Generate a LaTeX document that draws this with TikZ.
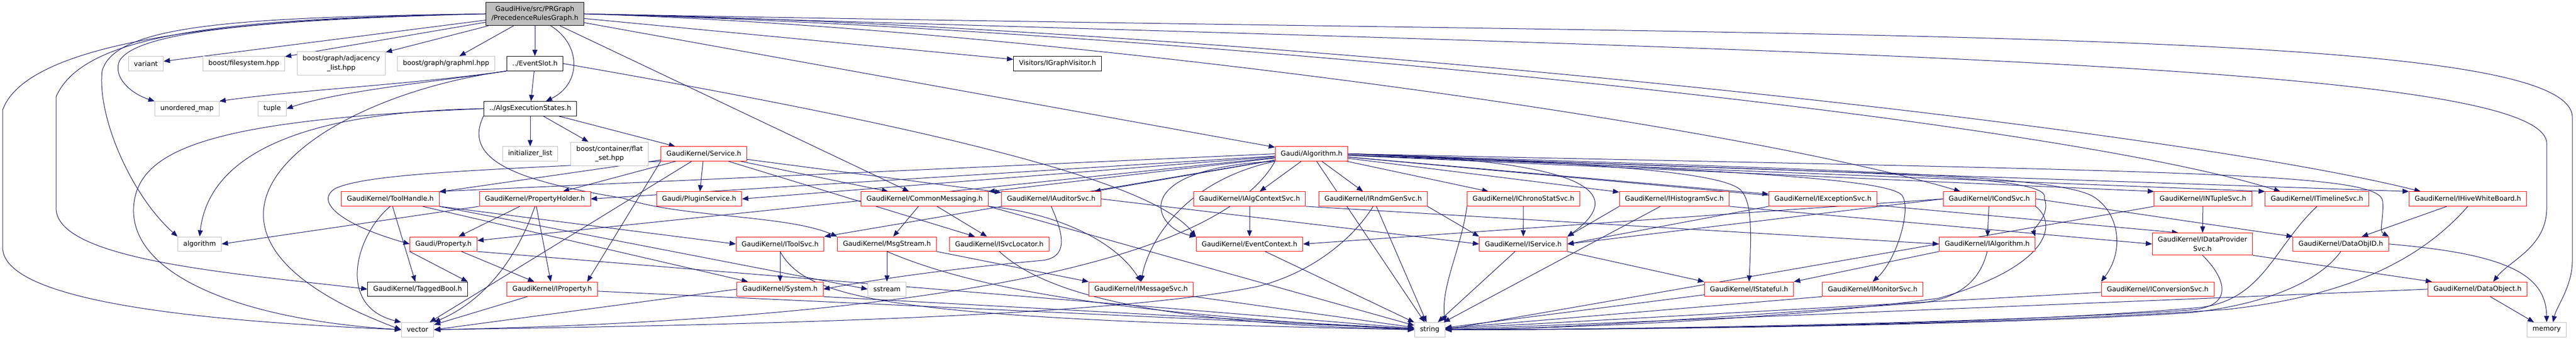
\documentclass[tikz,border=0pt]{standalone}
\usepackage{fontspec}
\setmainfont{DejaVu Sans}
\usetikzlibrary{arrows.meta}
\usetikzlibrary{backgrounds}
\usetikzlibrary{positioning}
\definecolor{edgeblue}{HTML}{191970}
\definecolor{sysgray}{HTML}{BFBFBF}
\definecolor{trunred}{HTML}{FF0000}
\tikzset{
    Node/.style = {rectangle, draw=black, fill=white, line width=1pt, align=center,
                   inner xsep=10.5pt, inner ysep=7.3pt, minimum height=27.5pt}
}
\tikzset{
    Edge/.style = {draw=edgeblue, line width=1pt, -{Triangle[length=12pt,width=9.5pt]}}
}
\begin{document}
\begin{tikzpicture}[
    x=1pt, y=-1.248pt,
    font=\fontsize{12.9}{17.5}\selectfont
]
\tikzset{
    sysnode/.style = {Node, draw=sysgray},
    rednode/.style = {Node, draw=trunred},
    rootnode/.style = {Node, fill=sysgray},
}
\useasboundingbox (0,1.8) rectangle (4917,520.2);

\node[rootnode] at (1021,23) (prg) {GaudiHive/src/PRGraph\\/PrecedenceRulesGraph.h};

\node[sysnode] at (278.5,99) (variant) {variant};
\node[sysnode] at (465.5,99) (filesys) {boost/filesystem.hpp};
\node[sysnode] at (651.5,99) (adjlist) {boost/graph/adjacency\\\_list.hpp};
\node[sysnode] at (851.5,99) (graphml) {boost/graph/graphml.hpp};
\node[Node] at (1021,99) (evslot) {../EventSlot.h};
\node[Node] at (2018.5,99) (visitor) {Visitors/IGraphVisitor.h};

\node[sysnode] at (357,168) (umap) {unordered\_map};
\node[sysnode] at (519.5,168) (tuple) {tuple};
\node[Node] at (1012,168) (aes) {../AlgsExecutionStates.h};

\node[sysnode] at (1012,237) (initlist) {initializer\_list};
\node[sysnode] at (1163.5,237) (flatset) {boost/container/flat\\\_set.hpp};
\node[rednode] at (1343.5,237) (service) {GaudiKernel/Service.h};
\node[rednode] at (2503.5,237) (algh) {Gaudi/Algorithm.h};

\node[rednode] at (745,306) (toolh) {GaudiKernel/ToolHandle.h};
\node[rednode] at (1021,306) (propholder) {GaudiKernel/PropertyHolder.h};
\node[rednode] at (1334.5,306) (plugin) {Gaudi/PluginService.h};
\node[rednode] at (1765,306) (commsg) {GaudiKernel/CommonMessaging.h};
\node[rednode] at (2006.5,306) (iauditor) {GaudiKernel/IAuditorSvc.h};
\node[rednode] at (2385,306) (ialgctx) {GaudiKernel/IAlgContextSvc.h};
\node[rednode] at (2621,306) (irndm) {GaudiKernel/IRndmGenSvc.h};
\node[rednode] at (2908,306) (ichrono) {GaudiKernel/IChronoStatSvc.h};
\node[rednode] at (3196,306) (ihisto) {GaudiKernel/IHistogramSvc.h};
\node[rednode] at (3479.5,306) (iexcept) {GaudiKernel/IExceptionSvc.h};
\node[rednode] at (3797,306) (icond) {GaudiKernel/ICondSvc.h};
\node[rednode] at (4205,306) (intuple) {GaudiKernel/INTupleSvc.h};
\node[rednode] at (4422.5,306) (itimeline) {GaudiKernel/ITimelineSvc.h};
\node[rednode] at (4710.5,306) (iwhiteb) {GaudiKernel/IHiveWhiteBoard.h};

\node[sysnode] at (381,375) (algorithm) {algorithm};
\node[rednode] at (846.5,375) (property) {Gaudi/Property.h};
\node[rednode] at (1489,375) (itoolsvc) {GaudiKernel/IToolSvc.h};
\node[rednode] at (1693,375) (msgstream) {GaudiKernel/MsgStream.h};
\node[rednode] at (1907.5,375) (isvcloc) {GaudiKernel/ISvcLocator.h};
\node[rednode] at (2385,375) (evctx) {GaudiKernel/EventContext.h};
\node[rednode] at (2907.5,375) (iservice) {GaudiKernel/IService.h};
\node[rednode] at (3793,375) (ialgorithm) {GaudiKernel/IAlgorithm.h};
\node[rednode] at (4204,375) (idataprov) {GaudiKernel/IDataProvider\\Svc.h};
\node[rednode] at (4468,375) (dataobjid) {GaudiKernel/DataObjID.h};

\node[Node] at (797,444) (taggedbool) {GaudiKernel/TaggedBool.h};
\node[rednode] at (1054,444) (iproperty) {GaudiKernel/IProperty.h};
\node[rednode] at (1489,444) (system) {GaudiKernel/System.h};
\node[sysnode] at (1693,444) (sstream) {sstream};
\node[rednode] at (2178,444) (imsgsvc) {GaudiKernel/IMessageSvc.h};
\node[rednode] at (3338.5,444) (istateful) {GaudiKernel/IStateful.h};
\node[rednode] at (3574.5,444) (imonitor) {GaudiKernel/IMonitorSvc.h};
\node[rednode] at (4118.5,444) (iconv) {GaudiKernel/IConversionSvc.h};
\node[rednode] at (4729,444) (dataobj) {GaudiKernel/DataObject.h};

\node[sysnode] at (797,506) (vector) {vector};
\node[sysnode] at (2729,506) (string) {string};
\node[sysnode] at (4861,506) (memory) {memory};

\begin{scope}[on background layer]
\path (prg) edge [Edge] (variant);
\path (prg) edge [Edge] (filesys);
\path (prg) edge [Edge] (adjlist);
\path (prg) edge [Edge] (graphml);
\path (prg) edge [Edge] (evslot);
\path (prg) edge [Edge] (visitor);
\path (prg) edge [Edge] (algh);
\path (prg) edge [Edge] (commsg);
\draw[Edge] (prg.east) .. controls (2000,45) and (3300,190) .. ([xshift=-55pt]icond.north);
\draw[Edge] (prg.east) .. controls (2200,45) and (3900,180) .. ([xshift=-70pt]itimeline.north);
\draw[Edge] (prg.east) .. controls (2300,40) and (4100,190) .. ([xshift=-90pt]iwhiteb.north);
\draw[Edge] ([xshift=30pt]prg.south) .. controls (1110,70) and (1110,130) .. ([xshift=30pt]aes.north);
\draw[Edge] (prg.west) .. controls (500,32) and (260,50) .. (228,95) .. controls (215,120) and (250,145) .. (umap.north west);
\draw[Edge] (prg.west) .. controls (450,28) and (220,40) .. (195,110) .. controls (185,180) and (250,300) .. (algorithm.north west);
\draw[Edge] (prg.west) .. controls (450,30) and (160,50) .. (107,150) -- (107,320) .. controls (107,400) and (450,420) .. (taggedbool.west);
\draw[Edge] (prg.west) .. controls (400,30) and (50,70) .. (5,170) -- (5,380) .. controls (5,470) and (450,495) .. (vector.west);
\draw[Edge] (prg.east) .. controls (3500,60) and (4900,40) .. (4910,180) -- (4910,400) .. controls (4910,440) and (4880,470) .. ([xshift=12pt]memory.north);
\draw[Edge] (prg.east) .. controls (3500,80) and (4850,100) .. (4861,220) -- (4861,320) .. controls (4861,380) and (4790,400) .. ([xshift=30pt]dataobj.north);

\path (evslot) edge [Edge] (aes);
\draw[Edge] (evslot.south west) .. controls (800,130) and (560,140) .. (umap.north east);
\draw[Edge] (evslot.south west) .. controls (850,125) and (650,140) .. (tuple.east);
\draw[Edge] (evslot.east) .. controls (1800,200) and (2200,280) .. (evctx.north west);
\draw[Edge] (evslot.south west) .. controls (600,150) and (250,350) .. (vector.west);

\path (aes) edge [Edge] (initlist);
\path (aes) edge [Edge] (flatset);
\path (aes) edge [Edge] (service);
\draw[Edge] (aes.west) .. controls (600,172) and (400,230) .. (algorithm.north);
\draw[Edge] (aes.west) .. controls (400,185) and (260,230) .. (255,320) .. controls (250,420) and (450,490) .. (vector.west);
\draw[Edge] (aes.south west) .. controls (880,250) and (1000,280) .. (1190,305) .. controls (1300,335) and (1500,330) .. (msgstream.north west);

\path (service) edge [Edge] (plugin);
\path (service) edge [Edge] (propholder);
\path (service) edge [Edge] (commsg);
\path (service) edge [Edge] (iauditor);
\path (service) edge [Edge] (isvcloc);
\path (service) edge [Edge] (toolh);
\path (service) edge [Edge] (vector);
\path (service.south west) edge [Edge] ([xshift=-20pt]iproperty.north east);
\draw[Edge] (service.south west) .. controls (900,262) and (700,268) .. (640,290) .. controls (600,310) and (650,345) .. (property.west);

\path (algh.west) edge [Edge] (toolh.north east);
\path (algh) edge [Edge] (propholder.east);
\path (algh) edge [Edge] (plugin.east);
\path (algh) edge [Edge] (commsg);
\path (algh) edge [Edge] (iauditor);
\path (algh) edge [Edge] (ialgctx);
\path (algh) edge [Edge] (irndm);
\path (algh) edge [Edge] (ichrono);
\path (algh) edge [Edge] (ihisto);
\path (algh) edge [Edge] (iexcept);
\path (algh) edge [Edge] (intuple.north west);
\path (algh) edge [Edge] (itimeline.north west);
\path (algh) edge [Edge] (iwhiteb.north west);
\path (algh) edge [Edge] (property);
\path (algh) edge [Edge] (itoolsvc.north east);
\path (algh) edge [Edge] ([xshift=50pt]idataprov.north west);
\path (algh) edge [Edge] (string);
\draw[Edge] (algh.south west) .. controls (2150,260) and (2200,350) .. (evctx.north west);
\draw[Edge] (algh.south west) .. controls (2250,280) and (2190,380) .. (imsgsvc.north);
\draw[Edge] (algh.east) .. controls (3000,245) and (3120,290) .. (iservice.north east);
\draw[Edge] (algh.east) .. controls (3000,250) and (3280,262) .. (3322,292) .. controls (3345,310) and (3343,360) .. (istateful.north);
\draw[Edge] (algh.east) .. controls (3300,262) and (3600,275) .. (3630,300) .. controls (3650,320) and (3620,400) .. (imonitor.north);
\draw[Edge] (algh.east) .. controls (3500,268) and (3920,265) .. (3902,305) .. controls (3915,330) and (3880,352) .. (ialgorithm.north east);
\draw[Edge] (algh.east) .. controls (3500,262) and (3900,268) .. (3990,300) .. controls (4040,320) and (4060,380) .. (iconv.north west);
\draw[Edge] (algh.east) .. controls (4200,265) and (4545,265) .. (4548,310) .. controls (4550,340) and (4540,355) .. (dataobjid.north east);
\draw[Edge] (algh.south west) .. controls (2300,440) and (1500,495) .. (vector.east);

\path (toolh) edge [Edge] (taggedbool);
\draw[Edge] (toolh.south) .. controls (680,360) and (640,470) .. (vector.north west);
\path (toolh.south east) edge [Edge] (itoolsvc.west);
\path (toolh) edge [Edge] (system);
\path (toolh.south east) edge [Edge] (sstream.west);

\path (propholder.south west) edge [Edge] (algorithm.east);
\path (propholder) edge [Edge] (property);
\path (propholder) edge [Edge] (iproperty);
\draw[Edge] (propholder.south) .. controls (990,390) and (930,460) .. (vector.north east);

\path (property) edge [Edge] (iproperty);
\path (property.south west) edge [Edge] (taggedbool.north east);
\path (property.south east) edge [Edge] (string);
\path (iproperty) edge [Edge] (vector);
\path (iproperty) edge [Edge] (string);

\path (itoolsvc) edge [Edge] (system);
\draw[Edge] (itoolsvc.south) .. controls (1540,460) and (1700,490) .. (string.west);
\path (msgstream) edge [Edge] (sstream);
\path (msgstream.south east) edge [Edge] (imsgsvc.north west);
\draw[Edge] (msgstream.south) .. controls (1850,440) and (2100,480) .. (string.west);
\draw[Edge] (isvcloc.south) .. controls (1980,440) and (2150,495) .. (string.west);

\path (commsg) edge [Edge] (msgstream);
\path (commsg) edge [Edge] (isvcloc);
\draw[Edge] (commsg.south east) .. controls (1990,325) and (2120,360) .. (imsgsvc.north);
\path (commsg.south east) edge [Edge] (string);

\draw[Edge] (iauditor.south) .. controls (2030,360) and (2040,395) .. (1990,400) .. controls (1850,410) and (1700,425) .. (system.east);
\path (iauditor.east) edge [Edge] (iservice.west);
\path (ialgctx) edge [Edge] (evctx);
\path (ialgctx.south east) edge [Edge] (ialgorithm.west);

\path (irndm) edge [Edge] (string);
\path (irndm.south east) edge [Edge] (iservice.north west);
\draw[Edge] (irndm.south) .. controls (2580,370) and (2500,420) .. (2400,440) .. controls (2100,490) and (1300,500) .. (vector.east);
\path (ichrono) edge [Edge] (iservice);
\draw[Edge] (ichrono.south west) .. controls (2790,380) and (2750,440) .. (string.north east);
\path (ihisto.south west) edge [Edge] (iservice.north east);
\path (ihisto.south east) edge [Edge] (idataprov.west);
\path (ihisto) edge [Edge] (string);
\path (iexcept.south west) edge [Edge] (iservice.east);

\path (icond) edge [Edge] (ialgorithm);
\path (icond.west) edge [Edge] (iservice.east);
\path (icond.west) edge [Edge] (evctx.east);
\path (icond.east) edge [Edge] (dataobjid.north west);
\draw[Edge] (icond.south east) .. controls (3930,345) and (3910,410) .. (3700,458) .. controls (3400,490) and (3000,504) .. (string.east);

\path (intuple) edge [Edge] (idataprov);
\path (intuple.south west) edge [Edge] (string.east);
\draw[Edge] (itimeline.south) .. controls (4340,380) and (4320,460) .. (4200,472) .. controls (3800,500) and (3100,506) .. (string.east);
\path (iwhiteb) edge [Edge] (dataobjid);
\draw[Edge] (iwhiteb.south) .. controls (4620,400) and (4480,455) .. (4250,475) .. controls (3800,500) and (3100,506) .. (string.east);

\draw[Edge] (dataobjid.east) .. controls (4780,390) and (4860,420) .. (memory.north);
\draw[Edge] (dataobjid.south) .. controls (4420,440) and (4300,470) .. (4180,480) .. controls (3800,500) and (3100,506) .. (string.east);
\path (idataprov.south east) edge [Edge] ([xshift=8pt]dataobj.north west);
\draw[Edge] (idataprov.south) .. controls (4240,420) and (4275,470) .. (4180,476) .. controls (3800,496) and (3100,506) .. (string.east);

\path (ialgorithm.south west) edge [Edge] (istateful.north east);
\draw[Edge] (ialgorithm.south) .. controls (3780,430) and (3740,462) .. (3650,466) .. controls (3300,485) and (3000,505) .. (string.east);
\path (iservice.south east) edge [Edge] (istateful.north west);
\path (iservice) edge [Edge] (string);
\path (istateful) edge [Edge] (string);
\path (imonitor.south west) edge [Edge] (string);
\path (iconv) edge [Edge] (string);
\path (dataobj) edge [Edge] (memory);
\path (dataobj.west) edge [Edge] (string.east);
\path (imsgsvc) edge [Edge] (string);
\path (system.west) edge [Edge] (vector.east);
\path (system.south east) edge [Edge] (string);
\path (evctx) edge [Edge] (string);
\end{scope}
\end{tikzpicture}
\end{document}
